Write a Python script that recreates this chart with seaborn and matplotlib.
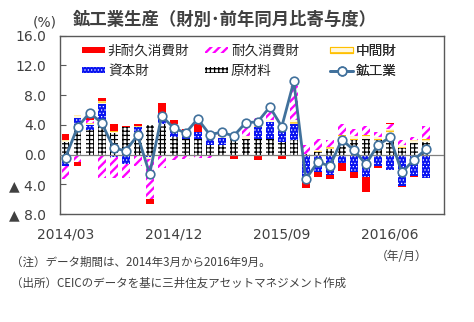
import numpy as np
import pandas as pd
import matplotlib as mpl
mpl.use("Agg")
import matplotlib.pyplot as plt
from matplotlib.patches import Patch
from matplotlib.lines import Line2D
import seaborn as sns

# ---------------- data ----------------
months = ["2014/03", "2014/04", "2014/05", "2014/06", "2014/07", "2014/08", "2014/09",
          "2014/10", "2014/11", "2014/12", "2015/01", "2015/02", "2015/03", "2015/04",
          "2015/05", "2015/06", "2015/07", "2015/08", "2015/09", "2015/10", "2015/11",
          "2015/12", "2016/01", "2016/02", "2016/03", "2016/04", "2016/05", "2016/06",
          "2016/07", "2016/08", "2016/09"]
tick_months = ["2014/03", "2014/12", "2015/09", "2016/06"]

raw_materials = [1.7, 3.6, 3.3, 4.3, 2.9, 3.7, 3.0, 4.0, 4.1, 2.4, 2.1, 2.1, 1.25, 1.25, 2.1, 2.1,
                 2.1, 2.1, 1.7, 1.9, 0.1, 0.4, 0.8, 2.35, 2.0, 2.1, 1.9, 2.8, 0.9, 1.5, 1.7]
capital_goods = [-1.6, 1.3, 0.7, 2.5, -0.3, -1.3, 0.7, -0.3, 1.5, 1.5, 1.0, 0.9, 0.85, 1.0, 0.4, -0.2,
                 1.6, 2.3, 1.55, 2.2, -3.6, -2.3, -2.75, -1.2, -2.3, -3.0, -1.55, -2.1, -4.2, -2.9, -3.1]
intermediate = [0.2, 0.4, 0.2, 0.4, 0.3, 0.0, 0.2, -0.3, 0.0, 0.15, 0.1, 0.1, 0.0, 0.2, 0.2, 0.4,
                0.2, 0.2, 0.25, 0.6, 0.0, 0.2, 0.25, 0.35, 0.45, 0.6, 0.45, 0.65, 0.45, 0.45, 0.45]
durable = [-1.7, -1.0, 0.5, -3.2, -2.9, -1.9, -1.5, -5.4, -1.8, -0.75, -0.6, -0.4, -0.5, 0.0, -0.1, 1.3,
           1.0, 1.4, 0.0, 4.5, 1.2, 1.5, 0.9, 1.4, 1.0, 1.1, 0.75, 0.6, 0.6, 0.35, 1.65]
nondurable = [0.9, -0.5, 0.4, 0.4, 0.9, 0.15, 0.2, -0.6, 1.3, 0.55, 0.2, 1.0, 0.0, 0.2, -0.5, 0.0,
              -0.75, -0.1, -0.65, 0.0, -0.9, -0.7, -0.55, -1.0, -0.9, -2.1, -0.25, 0.25, -0.2, -0.1, 0.0]
industry = [-0.4, 3.7, 5.6, 4.3, 0.9, 0.5, 2.6, -2.6, 5.2, 3.6, 2.9, 4.8, 2.7, 3.0, 2.5, 4.3,
            4.4, 6.4, 3.75, 9.85, -3.3, -1.0, -1.55, 2.0, 0.6, -1.3, 1.3, 2.3, -2.4, -0.7, 0.7]

# ---------------- style ----------------
sns.set_style("white")
plt.rcParams["font.family"] = ["DejaVu Sans", "Noto Sans CJK JP"]
plt.rcParams["hatch.linewidth"] = 1.0

RED = "#FF0000"
MAG = "#FF00FF"
YEL = "#FFC000"
BLUE = "#0A14F0"
LINE = "#41719C"
TXT = "#404040"
FRAME = "#595959"

styles = {
    "原材料": dict(facecolor="white", edgecolor="black", hatch="++++"),
    "資本財": dict(facecolor=BLUE, edgecolor="white", hatch="....."),
    "中間財": dict(facecolor="#FFF7DD", edgecolor=YEL, hatch="----"),
    "耐久消費財": dict(facecolor="white", edgecolor=MAG, hatch="////"),
    "非耐久消費財": dict(facecolor=RED, edgecolor=RED, hatch=None),
}
hatch_lw = {"原材料": 0.9, "資本財": 0.5, "中間財": 0.9, "耐久消費財": 1.7, "非耐久消費財": 1.0}
stack = [("原材料", raw_materials), ("資本財", capital_goods), ("中間財", intermediate),
         ("耐久消費財", durable), ("非耐久消費財", nondurable)]


def with_hatch_lw(artist, lw):
    orig = artist.draw

    def draw(renderer, _orig=orig, _lw=lw):
        with mpl.rc_context({"hatch.linewidth": _lw}):
            return _orig(renderer)
    artist.draw = draw
    if hasattr(artist, "set_hatch_linewidth"):
        artist.set_hatch_linewidth(lw)


W, H = 474, 322
fig = plt.figure(figsize=(W / 100, H / 100), dpi=100)
ax = fig.add_axes([59.5 / W, 1 - 214 / H, (444 - 59.5) / W, (214 - 35.7) / H])

order = months + ["2016/10"]
n = len(months)
pos_base = np.zeros(n)
neg_base = np.zeros(n)
for name, vals in stack:
    v = np.array(vals, dtype=float)
    p = np.clip(v, 0, None)
    q = np.clip(v, None, 0)
    st = styles[name]
    for h, base in ((p, pos_base), (q, neg_base)):
        df = pd.DataFrame({"month": months, "v": h})
        k0 = len(ax.patches)
        sns.barplot(data=df, x="month", y="v", order=order, ax=ax, width=0.66,
                    errorbar=None, color=st["facecolor"], saturation=1,
                    bottom=base.copy(), linewidth=0, zorder=2, **st)
        for ptc in ax.patches[k0:]:
            with_hatch_lw(ptc, hatch_lw[name])
    pos_base += p
    neg_base += q

ax.axhline(0, color="#808080", lw=0.9, zorder=3)

sns.lineplot(x=np.arange(n), y=industry, ax=ax, color=LINE, lw=2.0, marker="o",
             markersize=6.2, markerfacecolor="white", markeredgecolor=LINE,
             markeredgewidth=1.2, zorder=5, sort=False)

ax.set_xlim(-0.5, 31.5)
ax.set_ylim(-8, 16)
ax.set_xlabel("")
ax.set_ylabel("")
yt = [-8, -4, 0, 4, 8, 12, 16]
ax.set_yticks(yt)
ax.set_yticklabels([("▲ %.1f" % -t) if t < 0 else "%.1f" % t for t in yt])
ax.set_xticks([months.index(m) for m in tick_months])
ax.set_xticklabels(tick_months)
ax.tick_params(axis="y", direction="in", length=4, width=0.8, color=FRAME, pad=9.5,
               labelsize=10, labelcolor=TXT, left=True)
ax.tick_params(axis="x", length=0, pad=10, labelsize=10, labelcolor=TXT)
for s in ax.spines.values():
    s.set_visible(True)
    s.set_color(FRAME)
    s.set_linewidth(1.0)
ax.grid(False)

# legends (3 columns placed separately)
handles = {
    "非耐久消費財": Patch(facecolor=RED, edgecolor=RED, lw=0),
    "耐久消費財": Patch(facecolor="white", edgecolor=MAG, hatch="////", lw=0),
    "中間財": Patch(facecolor="#FFF7DD", edgecolor=YEL, hatch="---", lw=0.8),
    "資本財": Patch(facecolor=BLUE, edgecolor="white", hatch=".....", lw=0),
    "原材料": Patch(facecolor="white", edgecolor="black", hatch="++++", lw=0),
    "鉱工業": Line2D([], [], color=LINE, lw=2.0, marker="o", markersize=6.2,
                   markerfacecolor="white", markeredgecolor=LINE, markeredgewidth=1.2),
}
cols = [(82, ["非耐久消費財", "資本財"]), (205, ["耐久消費財", "原材料"]), (330, ["中間財", "鉱工業"])]
for i, (xpx, labs) in enumerate(cols):
    leg = ax.legend([handles[l] for l in labs], labs, loc="upper left",
                    bbox_to_anchor=(xpx / W, 1 - 44 / H), bbox_transform=fig.transFigure,
                    frameon=False, borderaxespad=0, borderpad=0, handlelength=1.7,
                    handleheight=0.35, handletextpad=0.2, labelspacing=0.45,
                    prop={"family": ["Noto Sans CJK JP"], "size": 9.8})
    for t in leg.get_texts():
        t.set_color("#262626")
    for hp, lab in zip(leg.legend_handles, labs):
        if lab in hatch_lw and hp is not None:
            with_hatch_lw(hp, hatch_lw[lab])
    ax.add_artist(leg)

fig.text(73 / W, 1 - 20 / H, "鉱工業生産（財別･前年同月比寄与度）", fontsize=12.5,
         fontweight="bold", color=TXT, ha="left", va="center", family=["Noto Sans CJK JP"])
fig.text(45 / W, 1 - 22 / H, "(%)", fontsize=10, color=TXT, ha="center", va="center")
fig.text(402 / W, 1 - 256 / H, "（年/月）", fontsize=8.5, color=TXT, ha="center", va="center",
         family=["Noto Sans CJK JP", "DejaVu Sans"])
fig.text(11 / W, 1 - 262 / H, "（注）データ期間は、2014年3月から2016年9月。", fontsize=8.3,
         color=TXT, ha="left", va="center", family=["Noto Sans CJK JP", "DejaVu Sans"])
fig.text(11 / W, 1 - 283 / H, "（出所）CEICのデータを基に三井住友アセットマネジメント作成", fontsize=8.3,
         color=TXT, ha="left", va="center", family=["Noto Sans CJK JP", "DejaVu Sans"])

fig.savefig("out.png", dpi=100)
